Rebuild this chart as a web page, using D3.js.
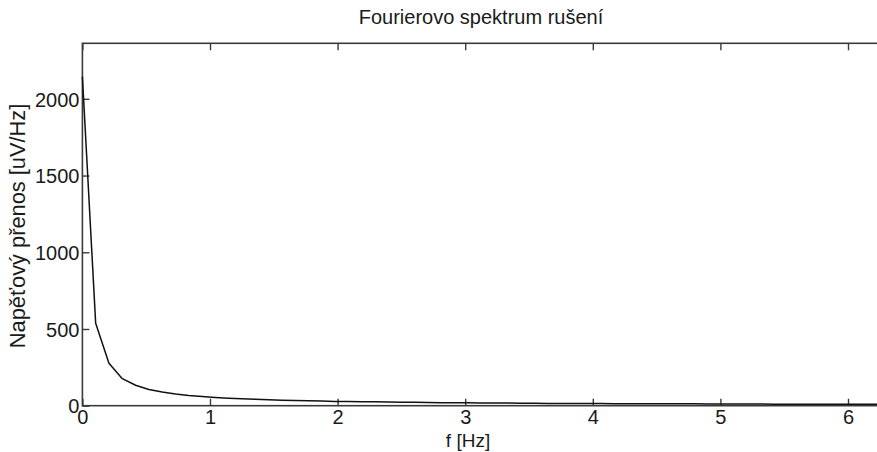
<!DOCTYPE html>
<html><head><meta charset="utf-8">
<script src="https://cdn.jsdelivr.net/npm/d3@7"></script>
<style>
html,body{margin:0;padding:0;background:#fff;overflow:hidden}
svg{display:block}
text{font-family:"Liberation Sans",Arial,sans-serif;fill:#1a1a1a}
</style></head><body>
<svg id="c" width="877" height="452"></svg>
<script>
const title = "Fourierovo spektrum rušení";
const xLabel = "f [Hz]";
const yLabel = "Napěťový přenos [uV/Hz]";
const xTicks = [0,1,2,3,4,5,6];
const yTicks = [0,500,1000,1500,2000];
const freq = [0,0.104,0.208,0.313,0.417,0.521,0.625,0.729,0.833,0.938,1.042,1.146,1.25,1.354,1.458,1.563,1.667,1.771,1.875,1.979,2.083,2.188,2.292,2.396,2.5,2.604,2.708,2.813,2.917,3.021,3.125,3.229,3.333,3.438,3.542,3.646,3.75,3.854,3.958,4.063,4.167,4.271,4.375,4.479,4.583,4.688,4.792,4.896,5,5.104,5.208,5.313,5.417,5.521,5.625,5.729,5.833,5.938,6.042,6.146,6.25];
const amp = [2145,537,276,176,133,106,89,76,67,60,54,49,45,42,39,36,34,32,30,28,27,26,25,24,23,22,21,20,19,19,18,17,17,16,16,15,15,15,14,14,13,13,13,12,12,12,12,11,11,11,11,11,10,10,10,10,10,9,9,9,9];
const xDomain = [0, 6.283];
const yDomain = [0, 2362];

const L = 82.4, T = 43.3, B = 405.7, R = L + 6.283*127.6;
const svg = d3.select("#c");
const x = d3.scaleLinear().domain(xDomain).range([L, R]);
const y = d3.scaleLinear().domain(yDomain).range([B, T]);
const axisColor = "#3a3a3a";
const tl = 7;
const fs = 20;

const g = svg.append("g");
g.append("rect").attr("x",L).attr("y",T).attr("width",R-L).attr("height",B-T)
 .attr("fill","#fff").attr("stroke",axisColor).attr("stroke-width",1.6);

const xb = g.append("g").attr("transform",`translate(0,${B})`)
 .call(d3.axisBottom(x).tickValues(xTicks).tickFormat(d3.format("d")).tickSizeInner(-tl).tickSizeOuter(0).tickPadding(4));
const xt = g.append("g").attr("transform",`translate(0,${T})`)
 .call(d3.axisTop(x).tickValues(xTicks).tickFormat("").tickSizeInner(-tl).tickSizeOuter(0));
const yl = g.append("g").attr("transform",`translate(${L},0)`)
 .call(d3.axisLeft(y).tickValues(yTicks).tickFormat(d3.format("d")).tickSizeInner(-tl).tickSizeOuter(0).tickPadding(3));
const yr = g.append("g").attr("transform",`translate(${R},0)`)
 .call(d3.axisRight(y).tickValues(yTicks).tickFormat("").tickSizeInner(-tl).tickSizeOuter(0));
[xb,xt,yl,yr].forEach(a=>{
  a.select(".domain").remove();
  a.selectAll("line").attr("stroke",axisColor).attr("stroke-width",1.4);
  a.selectAll("text").attr("font-size",fs).attr("fill","#1a1a1a").attr("font-family","Liberation Sans, Arial, sans-serif");
});
xb.selectAll("text").attr("dy","0.71em");
yl.selectAll("text").attr("dy","0.36em");

const line = d3.line().x((d,i)=>x(freq[i])).y(d=>y(d));
g.append("path").datum(amp).attr("d",line).attr("fill","none")
 .attr("stroke","#111").attr("stroke-width",1.5).attr("stroke-linejoin","round");

svg.append("text").attr("x",481).attr("y",24).attr("text-anchor","middle")
 .attr("font-size",fs).text(title);
svg.append("text").attr("x",468).attr("y",447).attr("text-anchor","middle")
 .attr("font-size",19).text(xLabel);
svg.append("text").attr("transform",`translate(25,226) rotate(-90)`)
 .attr("text-anchor","middle").attr("font-size",21.8).text(yLabel);
</script>
</body></html>
